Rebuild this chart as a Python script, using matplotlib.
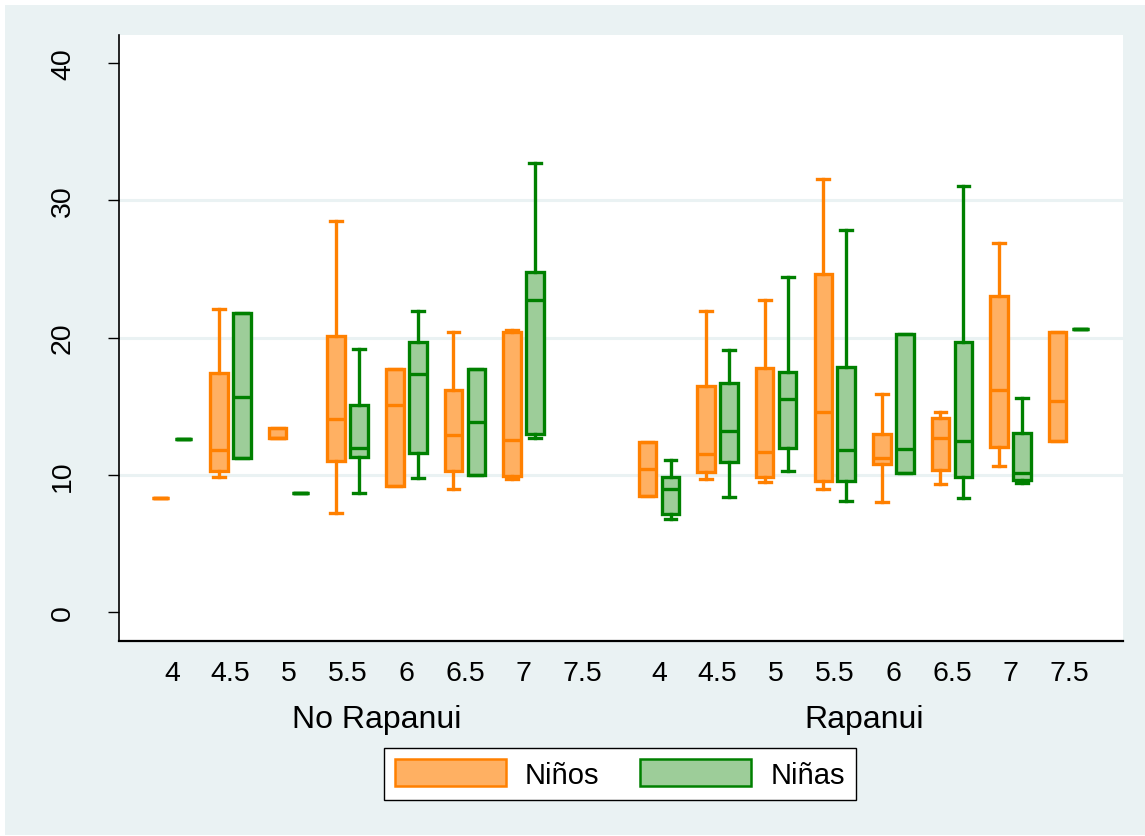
import matplotlib
matplotlib.use("Agg")
import matplotlib.pyplot as plt
from matplotlib.patches import Patch, Rectangle

plt.rcParams['font.family'] = ['Liberation Sans', 'DejaVu Sans']

edades = ['4', '4.5', '5', '5.5', '6', '6.5', '7', '7.5']
grupos = ['No Rapanui', 'Rapanui']
series = ['Niños', 'Niñas']

# (whislo, q1, med, q3, whishi) per age; None = no data
no_rapanui_ninos = [
    (8.3, 8.3, 8.3, 8.3, 8.3),
    (9.85, 10.3, 11.8, 17.4, 22.1),
    (12.7, 12.7, 12.7, 13.4, 13.4),
    (7.2, 11.0, 14.05, 20.1, 28.5),
    (9.2, 9.2, 15.1, 17.7, 17.7),
    (8.95, 10.25, 12.9, 16.15, 20.4),
    (9.7, 9.9, 12.5, 20.4, 20.55),
    None,
]
no_rapanui_ninas = [
    (12.6, 12.6, 12.6, 12.6, 12.6),
    (11.2, 11.2, 15.7, 21.8, 21.8),
    (8.7, 8.7, 8.7, 8.7, 8.7),
    (8.7, 11.3, 11.95, 15.1, 19.15),
    (9.75, 11.55, 17.35, 19.7, 21.95),
    (9.95, 9.95, 13.85, 17.7, 17.7),
    (12.7, 13.0, 22.72, 24.77, 32.75),
    None,
]
rapanui_ninos = [
    (8.45, 8.45, 10.4, 12.4, 12.4),
    (9.7, 10.2, 11.5, 16.45, 21.9),
    (9.5, 9.85, 11.65, 17.75, 22.7),
    (8.95, 9.55, 14.55, 24.6, 31.55),
    (8.0, 10.8, 11.25, 12.95, 15.9),
    (9.3, 10.35, 12.65, 14.1, 14.6),
    (10.6, 12.0, 16.15, 23.0, 26.9),
    (12.45, 12.45, 15.4, 20.4, 20.4),
]
rapanui_ninas = [
    (6.75, 7.15, 8.95, 9.85, 11.1),
    (8.35, 10.9, 13.2, 16.7, 19.1),
    (10.25, 11.95, 15.55, 17.5, 24.4),
    (8.05, 9.55, 11.8, 17.85, 27.85),
    (10.15, 10.15, 11.9, 20.25, 20.25),
    (8.3, 9.8, 12.45, 19.7, 31.05),
    (9.4, 9.65, 10.15, 13.05, 15.6),
    (20.65, 20.65, 20.65, 20.65, 20.65),
]
datos = {('No Rapanui', 'Niños'): no_rapanui_ninos,
         ('No Rapanui', 'Niñas'): no_rapanui_ninas,
         ('Rapanui', 'Niños'): rapanui_ninos,
         ('Rapanui', 'Niñas'): rapanui_ninas}

edge_col = {'Niños': '#FF8000', 'Niñas': '#008000'}
fill_col = {'Niños': '#FFB062', 'Niñas': '#9DCD99'}
offset = {'Niños': -0.196, 'Niñas': 0.196}

W, H = 1145, 837
fig = plt.figure(figsize=(W / 100, H / 100), dpi=100)
fig.patch.set_facecolor('white')
bg = Rectangle((5 / W, 1 / H), 1 - 5 / W, 1 - 7 / H, transform=fig.transFigure,
               facecolor='#EAF2F3', edgecolor='none', zorder=-10)
fig.patches.append(bg)

ax = fig.add_axes([119 / W, 1 - 642 / H, (1123 - 119) / W, (642 - 36) / H])
ax.set_zorder(1)
ax.set_facecolor('white')

group_gap = 8.314
for gi, g in enumerate(grupos):
    for s in series:
        stats, pos = [], []
        for i, v in enumerate(datos[(g, s)]):
            if v is None:
                continue
            lo, q1, med, q3, hi = v
            stats.append(dict(whislo=lo, q1=q1, med=med, q3=q3, whishi=hi, fliers=[]))
            pos.append(gi * group_gap + i + offset[s])
        ec = edge_col[s]
        ax.bxp(stats, positions=pos, widths=0.3, capwidths=0.2,
               patch_artist=True, showfliers=False, manage_ticks=False,
               boxprops=dict(facecolor=fill_col[s], edgecolor=ec, linewidth=2.4),
               medianprops=dict(color=ec, linewidth=2.4),
               whiskerprops=dict(color=ec, linewidth=2.4),
               capprops=dict(color=ec, linewidth=2.4))

xt, xl = [], []
for gi in range(len(grupos)):
    for i, e in enumerate(edades):
        xt.append(gi * group_gap + i)
        xl.append(e)
ax.set_xticks(xt)
ax.set_xticklabels(xl, fontsize=20.5)
ax.tick_params(axis='x', length=0, pad=14)

ax.set_xlim(-0.904, 7 + group_gap + 0.92)
ax.set_ylim(-2.12, 42.05)
ax.set_yticks([0, 10, 20, 30, 40])
ax.set_yticklabels(['0', '10', '20', '30', '40'], fontsize=20.5, rotation=90, va='center')
ax.tick_params(axis='y', length=8, width=1, pad=23)

ax.grid(axis='y', color='#EAF2F3', linewidth=2.2)
gl = ax.get_ygridlines()
gl[0].set_visible(False)
gl[-1].set_visible(False)
ax.set_axisbelow(True)

for side in ['top', 'right']:
    ax.spines[side].set_visible(False)
ax.spines['left'].set_linewidth(1.2)
ax.spines['bottom'].set_linewidth(1.6)

for gi, g in enumerate(grupos):
    cx = gi * group_gap + 3.5
    ax.text(cx, -0.128, g, transform=ax.get_xaxis_transform(), ha='center',
            va='center', fontsize=23)

handles = [Patch(facecolor=fill_col[s], edgecolor=edge_col[s], linewidth=1.8) for s in series]
leg = fig.legend(handles, series, loc='center', bbox_to_anchor=(620 / W, 1 - 775 / H),
                 ncol=2, fontsize=21, frameon=True, fancybox=False, edgecolor='black',
                 framealpha=1, handlelength=3.8, handleheight=1.05, handletextpad=0.65,
                 columnspacing=1.4, borderpad=0.4, borderaxespad=0)
leg.set_zorder(2)
leg.get_frame().set_linewidth(1.0)
leg.get_frame().set_facecolor('white')

fig.savefig('out.png', dpi=100, facecolor=fig.get_facecolor())
